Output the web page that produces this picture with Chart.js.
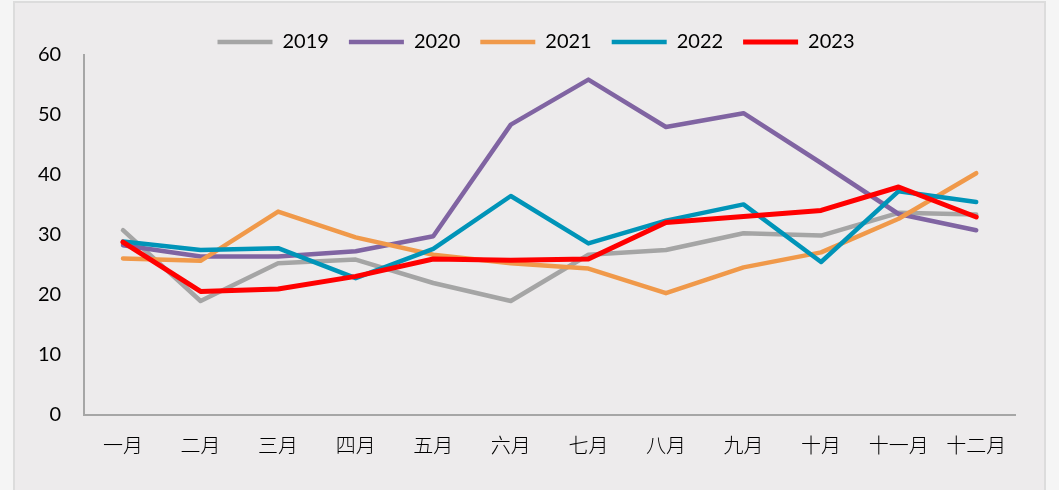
<!DOCTYPE html>
<html>
<head>
<meta charset="utf-8">
<script src="https://cdn.jsdelivr.net/npm/chart.js@4.4.1/dist/chart.umd.min.js"></script>
<style>
  html,body{margin:0;padding:0;background:#F5F5F5;}
  #panel{position:absolute;left:13px;top:1px;width:1033px;height:495px;background:#EDEBEC;border:2px solid #DCDCDC;box-sizing:border-box;}
  #wrap{position:absolute;left:1px;top:-3px;width:1034px;height:490px;}
</style>
</head>
<body>
<div id="panel"><div id="wrap"><canvas id="c"></canvas></div></div>
<script>
const months = ['一月','二月','三月','四月','五月','六月','七月','八月','九月','十月','十一月','十二月']
const years = ['2019','2020','2021','2022','2023']
const v2019 = [30.8, 19.0, 25.3, 25.9, 22.0, 19.0, 26.7, 27.5, 30.3, 29.9, 33.7, 33.4]
const v2020 = [28.3, 26.4, 26.4, 27.3, 29.8, 48.4, 55.9, 48.0, 50.3, 42.0, 33.5, 30.8]
const v2021 = [26.1, 25.7, 33.9, 29.6, 26.7, 25.3, 24.4, 20.3, 24.6, 27.1, 32.7, 40.3]
const v2022 = [28.9, 27.5, 27.8, 22.8, 27.7, 36.5, 28.6, 32.4, 35.1, 25.5, 37.3, 35.5]
const v2023 = [28.8, 20.6, 21.0, 23.1, 26.0, 25.8, 26.0, 32.1, 33.1, 34.1, 38.0, 33.0]
const yTicks = [0, 10, 20, 30, 40, 50, 60]

const series = [v2019, v2020, v2021, v2022, v2023]
const colors = ['#A5A5A5', '#8064A2', '#F0994A', '#0094B8', '#FF0000']
const widths = [4.5, 4.5, 4.5, 4.5, 5]

const axisGray = '#A6A6A6'

// legend sits a little tighter to the plot and right of the padded box centre
const legendTweak = {
  id: 'legendTweak',
  afterInit(chart) {
    const lg = chart.legend
    if (!lg) return
    const fit = lg.fit
    lg.fit = function () { fit.call(this); this.height -= 7 }
  },
  afterLayout(chart) {
    const lg = chart.legend
    if (!lg) return
    lg.left += 21
    lg.right += 21
  }
}

new Chart(document.getElementById('c'), {
  type: 'line',
  data: {
    labels: months,
    datasets: series.map((d, i) => ({
      label: years[i],
      data: d,
      borderColor: colors[i],
      backgroundColor: colors[i],
      borderWidth: widths[i],
      borderCapStyle: 'round',
      borderJoinStyle: 'round',
      pointRadius: 0,
      pointStyle: 'line',
      tension: 0,
      // later years drawn on top
      order: series.length - i
    }))
  },
  plugins: [legendTweak],
  options: {
    responsive: true, maintainAspectRatio: false, animation: false,
    // x tick padding widens the left margin, so the left padding is pulled in
    layout: { padding: { left: -1, right: 35, top: 12, bottom: 15 } },
    plugins: {
      tooltip: { enabled: false },
      legend: {
        display: true, position: 'top',
        labels: {
          usePointStyle: true, pointStyleWidth: 55, padding: 20,
          color: '#000',
          font: { family: 'Lato', size: 20 },
          sort: (a, b) => a.datasetIndex - b.datasetIndex
        }
      }
    },
    scales: {
      x: {
        offset: true,
        grid: { color: 'transparent', drawTicks: false, offset: true },
        border: { display: true, color: axisGray, width: 2 },
        ticks: { color: '#000', padding: 18, autoSkip: false, maxRotation: 0, minRotation: 0,
          font: { family: '"Noto Sans CJK SC"', size: 20, weight: '300' } }
      },
      y: {
        min: 0, max: 60,
        afterBuildTicks: s => { s.ticks = yTicks.map(v => ({ value: v })) },
        grid: { color: 'transparent', drawTicks: false },
        border: { display: true, color: axisGray, width: 2 },
        ticks: { color: '#000', padding: 23, font: { family: 'Lato', size: 20 } }
      }
    }
  }
})
</script>
</body>
</html>
